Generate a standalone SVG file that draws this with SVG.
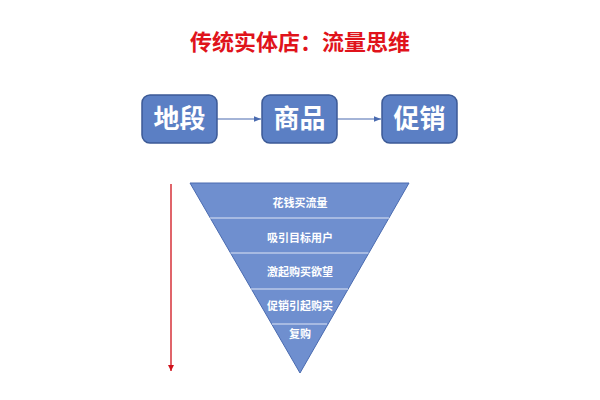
<svg xmlns="http://www.w3.org/2000/svg" width="600" height="400" viewBox="0 0 600 400">
<style>
.t{font-family:"Liberation Sans","Noto Sans CJK SC",sans-serif;font-weight:bold;text-anchor:middle}
.box{fill:#5b7fc4;stroke:#3c5a96;stroke-width:1.5}
.bt{font-size:26px;fill:#fff}
.ft{font-size:11px;fill:#fff}
.sep{stroke:#dfe6f5;stroke-width:1.2}
</style>
<defs>
<marker id="a" viewBox="0 0 10 10" refX="10" refY="5" markerWidth="6" markerHeight="6" orient="auto"><path d="M0,1 L10,5 L0,9z" fill="#4a6bb0"/></marker>
<marker id="r" viewBox="0 0 10 10" refX="10" refY="5" markerWidth="5" markerHeight="5" orient="auto"><path d="M0,0 L10,5 L0,10z" fill="#d0121b"/></marker>
</defs>
<rect width="600" height="400" fill="#fff"/>
<text class="t" x="300" y="50" font-size="22" fill="#e0131b">传统实体店：流量思维</text>
<g id="edges">
<line x1="217" y1="119" x2="261" y2="119" stroke="#4a6bb0" stroke-width="1.2" marker-end="url(#a)"/>
<line x1="337" y1="119" x2="381" y2="119" stroke="#4a6bb0" stroke-width="1.2" marker-end="url(#a)"/>
<line x1="171" y1="184" x2="171" y2="371" stroke="#d0121b" stroke-width="1.3" marker-end="url(#r)"/>
</g>
<g id="n1"><rect class="box" x="142" y="95" width="75" height="48" rx="8"/><text class="t bt" x="179.5" y="128">地段</text></g>
<g id="n2"><rect class="box" x="262" y="95" width="75" height="48" rx="8"/><text class="t bt" x="299.5" y="128">商品</text></g>
<g id="n3"><rect class="box" x="382" y="95" width="75" height="48" rx="8"/><text class="t bt" x="419.5" y="128">促销</text></g>
<g id="funnel">
<polygon points="190,183 409,183 300,373" fill="#6f8fcf" stroke="#4a6bb0" stroke-width="1"/>
<line class="sep" x1="210" y1="218" x2="389" y2="218"/>
<line class="sep" x1="230.5" y1="253" x2="368.5" y2="253"/>
<line class="sep" x1="251" y1="289" x2="348" y2="289"/>
<line class="sep" x1="272" y1="324" x2="327" y2="324"/>
<text class="t ft" x="300" y="207">花钱买流量</text>
<text class="t ft" x="300" y="242">吸引目标用户</text>
<text class="t ft" x="300" y="276">激起购买欲望</text>
<text class="t ft" x="300" y="310">促销引起购买</text>
<text class="t ft" x="300" y="338">复购</text>
</g>
</svg>
